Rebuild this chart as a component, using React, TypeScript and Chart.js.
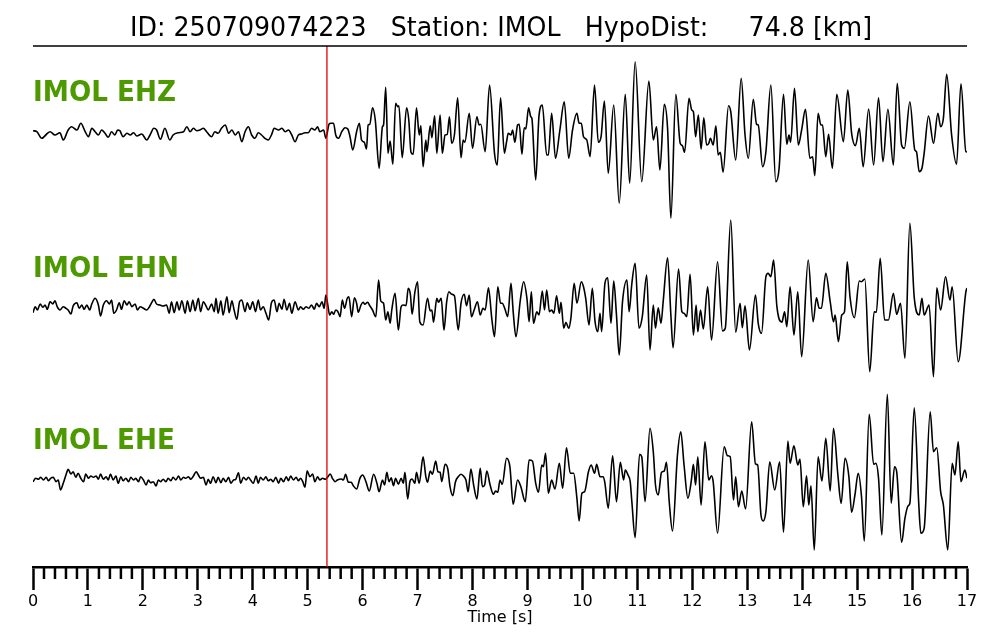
import React, { useEffect, useRef } from 'react';
import { Chart, registerables } from 'chart.js';

Chart.register(...registerables);

// ---------------- data ----------------
const titleText = 'ID: 250709074223   Station: IMOL   HypoDist:     74.8 [km]';
const channelNames = ['IMOL EHZ', 'IMOL EHN', 'IMOL EHE'];
const pickTime = 5.35; // red marker [s]
const timeRange = [0, 17];
const axisTitle = 'Time [s]';

// [time s, amplitude]
const ehzTrace: [number, number][] = [
  [0.00,1.3],[0.07,0.3],[0.16,-6.3],[0.25,-2],[0.31,0.3],[0.40,-3],[0.49,-0.7],[0.55,-8],[0.64,2],[0.70,5.3],
  [0.80,2],[0.87,8.7],[0.95,0.3],[1.01,-4.7],[1.07,3.7],[1.13,0.3],[1.19,-3],[1.25,2],[1.31,-1.3],[1.37,-5.3],
  [1.43,0.3],[1.49,-3],[1.54,2],[1.58,1.3],[1.64,-4.7],[1.71,-1.3],[1.77,-3],[1.83,-0.7],[1.89,-4],[1.98,-2],
  [2.07,-8],[2.13,-3],[2.20,3.7],[2.25,2],[2.32,-7.3],[2.40,3.7],[2.49,-8],[2.55,-3],[2.65,-0.7],[2.74,0.3],
  [2.80,5.3],[2.86,0.3],[2.92,3.7],[2.98,1.3],[3.04,2],[3.10,3.7],[3.16,0.3],[3.25,-4.7],[3.31,0.3],[3.37,-1.3],
  [3.43,3.7],[3.50,7],[3.56,-1.3],[3.62,2],[3.68,-3],[3.74,0.3],[3.80,-9.7],[3.86,0.3],[3.92,5.3],[3.98,-3],
  [4.04,-6.3],[4.10,-0.7],[4.16,-3],[4.22,-6.3],[4.28,-8],[4.34,-3],[4.39,3.7],[4.47,2],[4.53,3.7],[4.59,0.3],
  [4.65,2],[4.71,-3],[4.77,-9.7],[4.83,-3],[4.89,-2],[4.95,-0.7],[5.01,-0.7],[5.07,3.7],[5.13,2],[5.18,5.3],
  [5.22,0.3],[5.29,2],[5.33,-6.3],[5.39,8],[5.42,8.7],[5.47,8.7],[5.51,-3],[5.56,-6.3],[5.62,0.3],[5.68,4.3],
  [5.73,3],[5.77,-4.7],[5.82,-18],[5.89,0.3],[5.94,8.7],[5.98,-8],[6.03,-10.3],[6.07,-17],[6.10,7],[6.13,7.7],
  [6.18,24.3],[6.23,12],[6.30,-36.3],[6.36,5.3],[6.38,7],[6.42,44.7],[6.46,-21.3],[6.50,-9],[6.55,-32.3],[6.60,28.7],
  [6.64,25.3],[6.66,26.3],[6.72,-25.7],[6.80,24.3],[6.84,12],[6.88,-20.3],[6.92,-22.3],[6.98,24.3],[7.03,-3],[7.06,6.3],
  [7.10,-34.7],[7.15,-8],[7.17,-19.7],[7.23,6.3],[7.26,-5.7],[7.31,16.3],[7.35,-21.3],[7.41,17],[7.45,-21.3],[7.50,-3],
  [7.54,-2.3],[7.58,15.3],[7.62,-11.3],[7.67,-3],[7.73,34.3],[7.79,-25.7],[7.83,-8],[7.86,-10.3],[7.94,18.7],[8.00,-16.3],
  [8.08,15.3],[8.12,7],[8.15,7.7],[8.23,-19.7],[8.31,47],[8.40,-21.3],[8.45,-33],[8.51,34.3],[8.58,-21.3],[8.62,-9.7],
  [8.65,-1.3],[8.70,-3],[8.73,2],[8.77,-10.3],[8.82,7],[8.85,7.7],[8.90,-22.3],[8.94,4.3],[8.97,3],[9.02,24.3],
  [9.06,15.3],[9.08,13.7],[9.15,-48],[9.21,16.3],[9.27,27],[9.35,-23],[9.38,-23],[9.44,18.7],[9.51,-26.3],[9.59,2],
  [9.67,30.3],[9.75,-26.3],[9.82,2],[9.90,18.7],[9.94,8.7],[9.98,8.7],[10.02,-4.7],[10.08,-8],[10.14,-24.7],[10.22,47],
  [10.29,-10.3],[10.34,-4.7],[10.40,31],[10.47,-41.3],[10.57,27],[10.67,-71.3],[10.78,37.7],[10.86,-51.3],[10.96,70.3],[11.08,-49.7],
  [11.21,51],[11.29,-8],[11.35,5.3],[11.41,-38],[11.49,27.7],[11.55,3.7],[11.61,-86.3],[11.70,37.7],[11.78,-11.3],[11.82,-13.7],
  [11.86,-20.3],[11.94,33.7],[11.99,22],[12.02,20.3],[12.06,-4.7],[12.11,17],[12.16,-17],[12.21,14.3],[12.26,-13],[12.30,-11.3],
  [12.33,-6.3],[12.38,-13],[12.43,6.3],[12.47,-23],[12.51,-20.3],[12.56,-40.3],[12.66,26.3],[12.70,20.3],[12.79,-28],[12.89,53.7],
  [12.96,-3],[13.02,-26.3],[13.11,32.7],[13.17,7.7],[13.20,7],[13.28,-34.7],[13.34,-19.7],[13.43,47],[13.52,-49.7],[13.58,-36.3],
  [13.66,37.7],[13.72,-12.3],[13.76,-3],[13.79,-10.3],[13.86,43.7],[13.93,-13],[13.99,2],[14.06,22.7],[14.14,-26.3],[14.19,-24.7],
  [14.23,-43.7],[14.29,18.7],[14.34,7],[14.37,7],[14.43,-24.7],[14.48,-2.3],[14.55,-36.3],[14.63,37.7],[14.75,-9.7],[14.83,42],
  [14.90,-1.3],[14.97,-13.7],[15.04,3.7],[15.11,-34.7],[15.21,23],[15.30,-33],[15.39,34.3],[15.47,-29.7],[15.56,22.7],[15.66,-33],
  [15.73,48.7],[15.81,-13],[15.86,-16.3],[15.96,30.3],[16.05,-18],[16.08,-19.7],[16.13,-39.7],[16.18,-36.3],[16.22,-21.3],[16.30,16],
  [16.39,-11.3],[16.47,18.7],[16.52,5.3],[16.57,13.7],[16.63,57.7],[16.72,-3],[16.81,-32.3],[16.89,48.3],[16.98,-19.7],[17.00,-20],
];

const ehnTrace: [number, number][] = [
  [0.00,-4.7],[0.04,1.3],[0.08,-2],[0.13,4],[0.18,0.7],[0.22,3],[0.26,-1.3],[0.31,6.3],[0.36,4],[0.40,7.3],
  [0.44,1.3],[0.49,-2],[0.55,1.3],[0.60,-0.3],[0.64,-2],[0.69,-6],[0.73,2],[0.80,5.3],[0.84,-0.3],[0.89,3],
  [0.93,-1.3],[0.98,3],[1.03,-2],[1.07,4],[1.13,9.7],[1.19,3],[1.23,-8],[1.28,3],[1.34,7.3],[1.39,4],
  [1.43,8],[1.47,-5.3],[1.52,-2],[1.57,5.3],[1.61,-1.3],[1.66,7.3],[1.71,3],[1.75,6.3],[1.80,1.3],[1.86,4],
  [1.90,-2],[1.95,1.3],[2.01,-0.3],[2.07,-2],[2.12,1.3],[2.16,5.3],[2.20,8.7],[2.25,4],[2.31,3],[2.37,2],
  [2.43,3],[2.48,-5.3],[2.52,6.3],[2.57,-4.7],[2.62,6.3],[2.66,-2],[2.71,7.3],[2.77,-5.3],[2.81,7.3],[2.86,-3.7],
  [2.91,8],[2.95,-2.7],[3.01,9.7],[3.05,-3.7],[3.10,6.3],[3.15,2],[3.19,-2],[3.25,4],[3.30,-3.7],[3.33,9.7],
  [3.37,-5.3],[3.42,7.3],[3.46,-7],[3.53,11.3],[3.57,-4.7],[3.62,7.3],[3.66,-2],[3.71,-11.3],[3.76,6.3],[3.80,8],
  [3.86,-3.7],[3.90,5.3],[3.95,-1.3],[4.00,6.3],[4.05,-3.7],[4.10,8],[4.14,-2],[4.19,1.3],[4.24,-5.3],[4.29,-12],
  [4.34,5.3],[4.39,8],[4.44,-3.7],[4.48,4.7],[4.53,-1.3],[4.57,8.7],[4.62,-2],[4.67,4.7],[4.71,-5.3],[4.77,6.3],
  [4.83,-2],[4.87,1.3],[4.92,-1.3],[4.97,1.3],[5.02,-0.3],[5.07,3],[5.12,-1.3],[5.16,4.7],[5.21,1.3],[5.26,6.3],
  [5.30,-0.3],[5.33,13],[5.36,5],[5.40,-7],[5.44,-3.7],[5.47,-6.3],[5.51,-2],[5.55,-3.7],[5.59,-8.7],[5.63,8],
  [5.67,-0.3],[5.72,9.7],[5.75,11.3],[5.80,-8.7],[5.85,10.3],[5.89,4.7],[5.92,-4.3],[5.97,3],[6.01,5.7],[6.04,3.7],
  [6.09,5.7],[6.13,2.3],[6.18,-2],[6.24,-8.7],[6.29,28],[6.33,7],[6.38,4.7],[6.42,-12],[6.46,-3.7],[6.50,-15.3],
  [6.53,-2],[6.59,14.7],[6.65,-22],[6.70,1.3],[6.74,3],[6.79,2.3],[6.83,19.7],[6.87,13],[6.90,-6.3],[6.95,15.7],
  [7.00,26.3],[7.04,-13.7],[7.10,-17],[7.18,9.7],[7.23,-3],[7.26,-2],[7.29,-14.3],[7.35,9.7],[7.38,5.7],[7.43,9.7],
  [7.48,-22],[7.53,6.3],[7.57,16.3],[7.62,13.7],[7.67,12.3],[7.74,-22],[7.79,4.7],[7.85,13.7],[7.89,2.3],[7.94,13],
  [7.98,-8.7],[8.03,-2],[8.09,6.3],[8.14,-7],[8.19,-0.3],[8.23,-2],[8.29,20.3],[8.35,-10.3],[8.40,-28.7],[8.46,21.3],
  [8.51,4.7],[8.54,4.7],[8.59,-1],[8.64,-8.7],[8.70,24.7],[8.74,-3.7],[8.79,-28.7],[8.87,8],[8.93,26.3],[8.99,9.7],
  [9.03,-13.7],[9.07,16.3],[9.11,-15.3],[9.17,-3.7],[9.21,-7],[9.27,17],[9.31,-2],[9.35,18],[9.40,-3.7],[9.44,-2],
  [9.48,-5.3],[9.53,12.3],[9.58,-5.3],[9.61,5.7],[9.66,-20.3],[9.70,-14.3],[9.75,-20.3],[9.79,-10.3],[9.85,24.7],[9.90,4.7],
  [9.98,26.3],[10.02,21.3],[10.06,9.7],[10.12,-17],[10.18,19.7],[10.23,-13.7],[10.28,-23.7],[10.32,-5.3],[10.35,-23.7],[10.41,24.7],
  [10.46,30.3],[10.52,-15.3],[10.57,27],[10.62,-7],[10.67,-47],[10.73,6.3],[10.81,28],[10.85,-3.7],[10.90,24.7],[10.96,44.7],
  [11.03,-20.3],[11.09,-8.7],[11.17,33],[11.23,-42],[11.29,3],[11.33,-20.3],[11.38,0.3],[11.43,-15.3],[11.47,6.3],[11.55,50.3],
  [11.61,-7],[11.65,-39.7],[11.75,39],[11.81,-3.7],[11.85,-5.3],[11.90,-8.7],[11.96,33.7],[12.02,-27],[12.07,3],[12.10,-23.7],
  [12.15,-2],[12.20,-21],[12.28,21.3],[12.35,-32],[12.46,46.3],[12.55,-23],[12.60,-20.3],[12.70,88],[12.79,-24.3],[12.87,4.7],
  [12.91,-19.7],[12.96,2.3],[13.04,-42],[13.15,13],[13.20,-15.3],[13.26,-25.3],[13.34,31.3],[13.38,34.7],[13.43,31.3],[13.48,48],
  [13.54,1.3],[13.63,-14.3],[13.68,-3.7],[13.72,-18.7],[13.78,21.3],[13.85,-27],[13.92,16.3],[13.99,-48.7],[14.11,48],[14.20,-13.7],
  [14.26,10.3],[14.31,-0.3],[14.35,-0.3],[14.43,34.7],[14.51,6.3],[14.57,-13.7],[14.60,-7],[14.66,-33.7],[14.72,-7],[14.77,-3.7],
  [14.82,46.3],[14.87,11.3],[14.95,-9.7],[15.04,27],[15.08,26.3],[15.14,29],[15.23,-63.7],[15.31,-3.7],[15.35,-4.3],[15.42,49.7],
  [15.50,-12],[15.57,-12],[15.66,14.7],[15.72,-6.3],[15.79,4.7],[15.87,-50.3],[15.96,84.7],[16.04,10.3],[16.13,-7],[16.18,9.7],
  [16.22,-7],[16.31,3],[16.39,-68.7],[16.45,20.3],[16.52,-2],[16.61,31.3],[16.69,8],[16.73,21.3],[16.84,-53.7],[16.98,16.3],
  [17.00,20],
];

const eheTrace: [number, number][] = [
  [0.00,-1.7],[0.05,1.7],[0.10,0.7],[0.14,2.7],[0.19,0],[0.24,2.7],[0.28,-0.7],[0.32,1.7],[0.37,2.7],[0.42,-1.7],
  [0.46,0],[0.50,-10],[0.55,-3.3],[0.60,5],[0.64,10.7],[0.69,6],[0.73,8.3],[0.78,2.7],[0.82,6.7],[0.87,1.7],
  [0.92,-1.7],[0.96,6],[1.01,1.7],[1.05,4],[1.10,2.7],[1.15,4],[1.19,0.7],[1.23,6],[1.28,0.7],[1.33,3.3],
  [1.37,0],[1.41,6],[1.46,0],[1.51,4],[1.55,-3.3],[1.60,3.3],[1.64,-0.7],[1.69,1.7],[1.74,-1.7],[1.78,2.7],
  [1.83,0],[1.87,1.7],[1.92,-1.7],[1.96,3.3],[2.01,0],[2.06,-5],[2.10,0],[2.14,-2.7],[2.19,-1.7],[2.24,-6],
  [2.28,0],[2.32,-1.7],[2.37,0.7],[2.42,-1.7],[2.46,1.7],[2.51,-0.7],[2.55,2.7],[2.60,0],[2.65,4],[2.69,0],
  [2.74,2.7],[2.78,1.7],[2.83,3.3],[2.87,0.7],[2.92,4],[2.97,8.3],[3.01,5],[3.05,1.7],[3.10,2.7],[3.15,-5],
  [3.19,0.7],[3.23,-3.3],[3.28,3.3],[3.33,-2.7],[3.37,2.7],[3.42,-2.7],[3.46,1.7],[3.51,-1.7],[3.56,2.7],[3.60,-3.3],
  [3.65,0],[3.69,0.7],[3.74,7.3],[3.78,-3.3],[3.83,2.7],[3.88,0],[3.92,2.7],[3.96,0],[4.01,-3.3],[4.06,4],
  [4.10,-3.3],[4.14,2.7],[4.19,0],[4.24,3.3],[4.28,-0.7],[4.33,0.7],[4.37,-1.7],[4.42,2.7],[4.47,-3.3],[4.51,1.7],
  [4.56,-1.7],[4.61,3.3],[4.65,-0.7],[4.69,4],[4.74,0],[4.79,2.7],[4.83,-0.7],[4.87,1.7],[4.91,-1.7],[4.95,-7.3],
  [4.99,9.3],[5.04,3.3],[5.09,6],[5.13,-1.7],[5.18,3.3],[5.22,0],[5.27,1.7],[5.32,0.7],[5.36,2.7],[5.41,6],
  [5.45,1.7],[5.50,-1.7],[5.54,0],[5.61,1],[5.65,0],[5.69,5.7],[5.74,-2.3],[5.79,-2.3],[5.83,-5.7],[5.89,-9],
  [5.95,1.7],[6.00,5],[6.06,-1.7],[6.12,-11],[6.20,5.7],[6.26,-3.3],[6.30,-11.7],[6.36,0],[6.40,-5],[6.44,7.7],
  [6.48,-1.7],[6.52,2.3],[6.56,-5.7],[6.60,1.7],[6.65,-4.3],[6.70,1.7],[6.74,-3.3],[6.77,7.7],[6.82,-19],[6.86,-1.7],
  [6.90,1],[6.95,-3.3],[6.98,7.7],[7.03,-3.3],[7.10,23.3],[7.15,3.3],[7.18,-2.3],[7.23,9],[7.27,5.7],[7.33,19],
  [7.37,8.3],[7.41,7.7],[7.44,-1.7],[7.50,15.7],[7.55,11],[7.59,-6.7],[7.64,-15.7],[7.69,-1.7],[7.74,3.3],[7.79,5.7],
  [7.83,4.3],[7.88,0],[7.92,-11.7],[7.97,11],[8.02,-5],[8.08,-19],[8.14,11.7],[8.18,-6.7],[8.22,-5],[8.26,9],
  [8.32,-5],[8.38,-14.3],[8.42,-11],[8.46,-12.3],[8.50,0],[8.54,-4.3],[8.62,21.7],[8.68,13.3],[8.74,-24.3],[8.82,0],
  [8.88,-6.7],[8.96,-21.7],[9.03,20],[9.09,19],[9.15,-3.3],[9.20,-12.3],[9.26,15],[9.29,13.3],[9.33,26.7],[9.38,-13.3],
  [9.44,0],[9.50,-9],[9.58,16.7],[9.64,-8.3],[9.71,32.3],[9.78,6.7],[9.84,6.7],[9.90,-18.3],[9.94,-41],[9.99,-13.3],
  [10.04,-11.7],[10.11,8.3],[10.16,15],[10.22,6.7],[10.26,15.7],[10.32,3.3],[10.38,3.3],[10.41,-3.3],[10.47,-28.3],[10.55,24.3],
  [10.62,-21.7],[10.69,17.7],[10.75,0],[10.78,10],[10.83,5],[10.87,-1.7],[10.90,-21.7],[10.96,-57.7],[11.04,25.7],[11.08,23.3],
  [11.14,-21.7],[11.23,51.7],[11.29,28.3],[11.33,-5],[11.38,-15],[11.44,7.7],[11.49,9],[11.53,17.7],[11.58,-21.7],[11.64,-51],
  [11.73,25],[11.79,48.3],[11.85,15],[11.92,-18.3],[11.98,-1.7],[12.02,15.7],[12.06,-5],[12.10,23.3],[12.16,-25],[12.23,38.3],
  [12.30,0],[12.35,4.3],[12.38,-1.7],[12.46,-53.3],[12.58,33.3],[12.64,24.3],[12.69,23.3],[12.75,-20],[12.79,3.3],[12.84,-26.7],
  [12.90,-11],[12.97,-29],[13.08,58.3],[13.15,16],[13.19,15],[13.25,-35],[13.29,-41],[13.34,-31.7],[13.41,18.3],[13.50,-10],
  [13.59,18.3],[13.66,-52.3],[13.74,39],[13.78,16.7],[13.85,34.3],[13.92,15],[13.96,21],[14.02,-26.7],[14.08,4.3],[14.12,-25],
  [14.16,-5.7],[14.22,-70],[14.29,23.3],[14.36,-1],[14.43,41.7],[14.51,-11],[14.57,51.7],[14.65,5],[14.71,-23.3],[14.78,21.7],
  [14.85,3.3],[14.90,-32.3],[14.96,-15],[15.02,6.7],[15.08,-16.7],[15.13,-61],[15.22,65.7],[15.30,15.7],[15.34,16.7],[15.39,1.7],
  [15.45,-55],[15.55,85.7],[15.62,-23.3],[15.68,13.3],[15.72,8.3],[15.81,-62.3],[15.87,-38.3],[15.93,-25.7],[15.96,-23.3],[16.04,72.3],
  [16.12,-21.7],[16.16,-53.3],[16.22,-48.3],[16.33,68.3],[16.39,28.3],[16.45,32.3],[16.52,-11.7],[16.57,-25],[16.65,-70],[16.73,16.7],
  [16.78,5],[16.84,38.3],[16.89,-1.7],[16.96,10],[17.00,1.7],
];

// ---------------- layout / style ----------------
const traceOffsets = [435, 259, 87]; // vertical stacking of the three channels
const yMax = 521;
const labelGreen = '#4d9900';

const isWhole = (v: number) => Math.abs(v - Math.round(v)) < 1e-6;

const decorPlugin = {
  id: 'decor',
  afterDraw(chart: any) {
    const { ctx, chartArea: a, scales } = chart;
    const xs = scales.x;
    const ys = scales.y;
    ctx.save();
    // rule under the title
    ctx.strokeStyle = '#000';
    ctx.lineWidth = 1.5;
    ctx.beginPath();
    ctx.moveTo(a.left, a.top);
    ctx.lineTo(a.right, a.top);
    ctx.stroke();

    // title
    ctx.fillStyle = '#000';
    ctx.font = '27px "DejaVu Sans"';
    ctx.textBaseline = 'alphabetic';
    ctx.textAlign = 'left';
    const tw = ctx.measureText(titleText).width;
    const targetW = 742;
    ctx.save();
    ctx.translate((a.left + a.right) / 2 + 1 - targetW / 2, 36);
    ctx.scale(targetW / tw, 1);
    ctx.fillText(titleText, 0, 0);
    ctx.restore();

    // channel labels
    ctx.font = 'bold 29px "DejaVu Sans"';
    ctx.fillStyle = labelGreen;
    const lw = ctx.measureText(channelNames[0]).width;
    const sx = 143 / lw;
    channelNames.forEach((name, i) => {
      const yPix = ys.getPixelForValue(traceOffsets[i] + 31);
      ctx.save();
      ctx.translate(a.left, yPix);
      ctx.scale(sx, 1);
      ctx.fillText(name, 0, 0);
      ctx.restore();
    });

    // minor tick marks
    ctx.strokeStyle = '#000';
    ctx.lineWidth = 2.5;
    xs.ticks.forEach((t: any) => {
      if (isWhole(t.value)) return;
      const px = xs.getPixelForValue(t.value);
      ctx.beginPath();
      ctx.moveTo(px, a.bottom);
      ctx.lineTo(px, a.bottom + 12);
      ctx.stroke();
    });
    ctx.restore();
  },
};

export default function App() {
  const ref = useRef<HTMLCanvasElement | null>(null);
  useEffect(() => {
    if (!ref.current) return;
    const traces = [ehzTrace, ehnTrace, eheTrace];
    const datasets: any[] = traces.map((tr, i) => ({
      label: channelNames[i],
      data: tr.map(([t, amp]) => ({ x: t, y: traceOffsets[i] + amp })),
      borderColor: '#000',
      borderWidth: 1.6,
      pointRadius: 0,
      cubicInterpolationMode: 'monotone',
      fill: false,
      order: 1,
    }));
    datasets.push({
      label: 'pick',
      data: [
        { x: pickTime, y: 0 },
        { x: pickTime, y: yMax },
      ],
      borderColor: '#e00000',
      borderWidth: 1.3,
      pointRadius: 0,
      fill: false,
      order: 0,
    });
    const chart = new Chart(ref.current, {
      type: 'line',
      data: { datasets },
      options: {
        responsive: false,
        animation: false,
        events: [],
        layout: { padding: { top: 46, left: 33, right: 33, bottom: 14 } },
        plugins: {
          legend: { display: false },
          tooltip: { enabled: false },
          title: { display: false },
        },
        scales: {
          x: {
            type: 'linear',
            min: timeRange[0],
            max: timeRange[1],
            border: { display: true, color: '#000', width: 2.5 },
            grid: {
              drawOnChartArea: false,
              drawTicks: true,
              tickLength: 23,
              tickWidth: (c: any) => (c.tick && isWhole(c.tick.value) ? 2.5 : 0),
              tickColor: (c: any) => (c.tick && isWhole(c.tick.value) ? '#000' : 'rgba(0,0,0,0)'),
            },
            ticks: {
              stepSize: 0.2,
              autoSkip: false,
              maxRotation: 0,
              minRotation: 0,
              padding: 4,
              color: '#000',
              font: { family: 'DejaVu Sans', size: 16, lineHeight: 1 },
              callback: (v: any) => (isWhole(Number(v)) ? String(Math.round(Number(v))) : ''),
            },
            title: {
              display: true,
              text: axisTitle,
              color: '#000',
              font: { family: 'DejaVu Sans', size: 16, lineHeight: 1 },
              padding: { top: -4, bottom: 0 },
            },
          },
          y: { type: 'linear', display: false, min: 0, max: yMax },
        },
      },
      plugins: [decorPlugin],
    });
    return () => chart.destroy();
  }, []);
  return (
    <div style={{ position: 'absolute', left: 0, top: 0, width: 1000, height: 640, background: '#fff' }}>
      <canvas ref={ref} width={1000} height={640} style={{ display: 'block' }} />
    </div>
  );
}
